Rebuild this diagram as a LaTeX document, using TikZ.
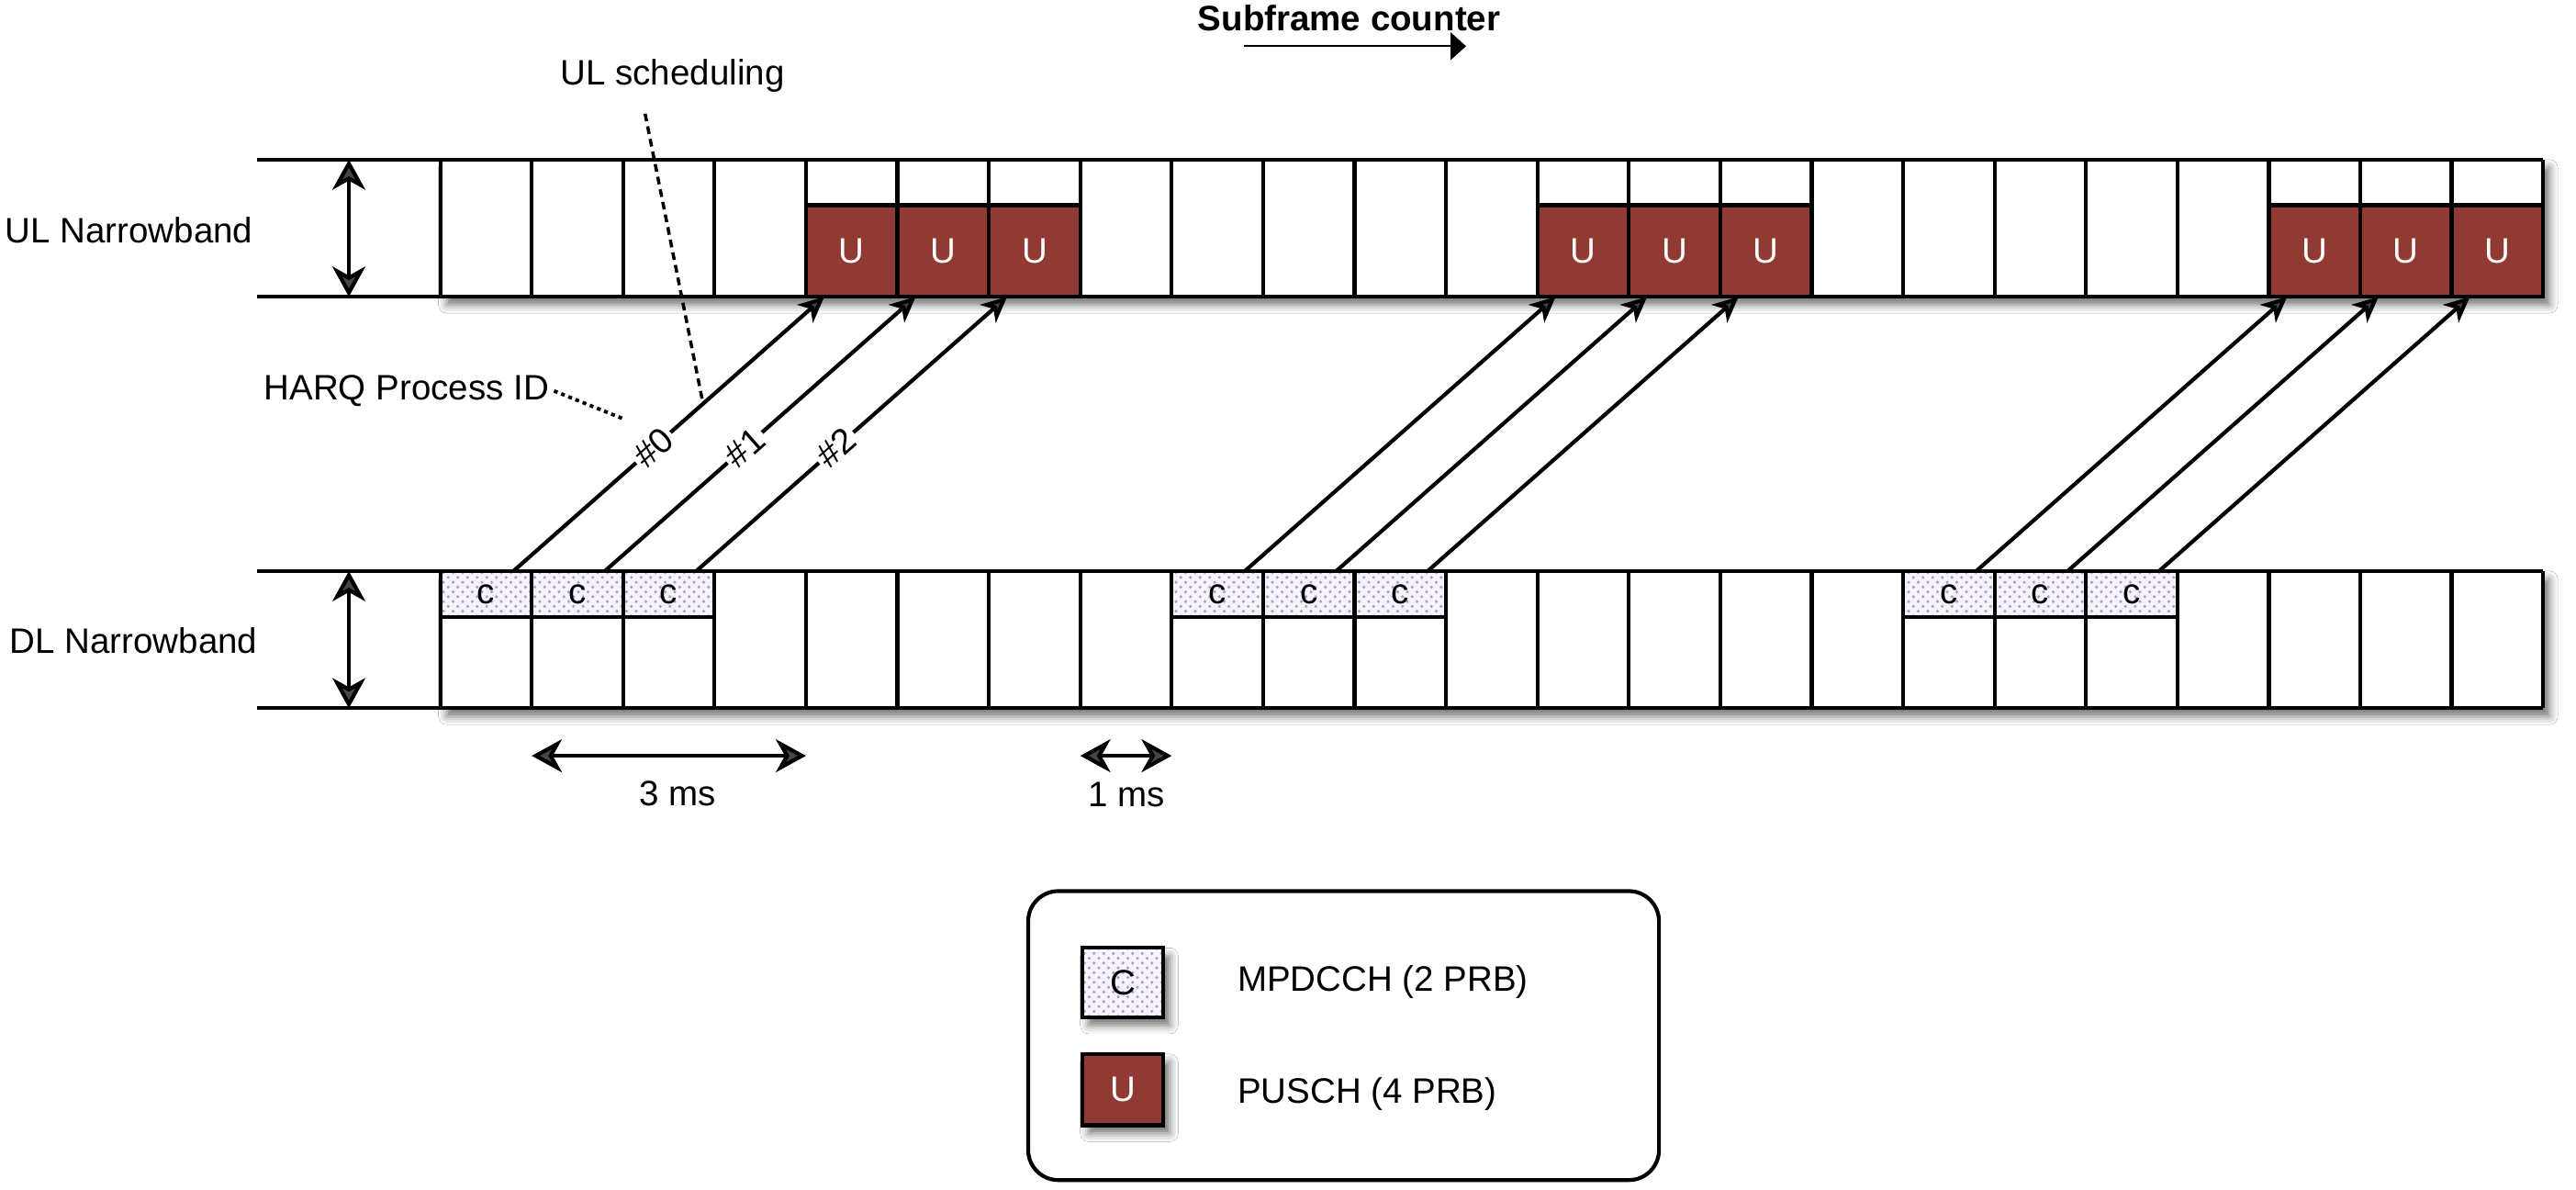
\documentclass[tikz,border=0pt]{standalone}
\usepackage{fontspec}
\setmainfont{Liberation Sans}
\usetikzlibrary{arrows.meta, patterns, shadows.blur, calc}

\definecolor{puschred}{HTML}{913A33}
\definecolor{mpdcchbg}{HTML}{F6F4FA}
\definecolor{mpdcchdot}{HTML}{A99CCB}

\begin{document}
\begin{tikzpicture}[
    line width=1.2pt,
    font=\fontsize{11pt}{13pt}\selectfont,
    softshadow/.style={blur shadow={shadow xshift=0.7mm, shadow yshift=-0.9mm, shadow blur radius=0.9mm, shadow opacity=55}},
    band/.style={fill=white, draw=none, softshadow},
    ccell/.style={draw, rectangle, minimum width=1cm, minimum height=0.5cm, inner sep=0pt, outer sep=0pt, preaction={fill=mpdcchbg}, pattern=crosshatch dots, pattern color=mpdcchdot},
    ucell/.style={draw, rectangle, minimum width=1cm, minimum height=1cm, inner sep=0pt, outer sep=0pt, fill=puschred, text=white},
    sched/.style={-{Stealth[length=2.8mm, width=2.6mm, inset=0.8mm]}},
    harqid/.style={pos=0.45, sloped, fill=white, inner sep=1pt},
    dimarrow/.style={{Stealth[length=3.3mm, width=3.6mm, inset=1mm]}-{Stealth[length=3.3mm, width=3.6mm, inset=1mm]}},
    bandname/.style={anchor=east, inner sep=0pt},
    legendbox/.style={draw, rectangle, rounded corners=3.3mm, minimum width=6.9cm, minimum height=3.16cm}
]
    \path[use as bounding box, fill=white] (-4.816,-5.265) rectangle (23.36,7.745);

    % --- Title ---
    \node[font=\fontsize{11pt}{13pt}\selectfont\bfseries] (counter) at (9.94,7.55) {Subframe counter};
    \coordinate (cnt0) at (8.79,7.24);
    \coordinate (cnt1) at (11.22,7.24);
    \draw[line width=0.6pt, -{Triangle[length=1.7mm, width=3mm]}] (cnt0) -- (cnt1);

    % --- UL narrowband ---
    \path[band] (0,4.5) rectangle (23,6);
    \draw (-2,6) -- (23,6);
    \draw (-2,4.5) -- (23,4.5);
    \foreach \i in {0,...,23} \draw (\i,4.5) -- (\i,6);
    \node[bandname] (ulname) at (-2.03,5.23) {UL Narrowband};
    \coordinate (ulbot) at (-1,4.5);
    \coordinate (ultop) at (-1,6);
    \draw[dimarrow] (ulbot) -- (ultop);

    % --- DL narrowband ---
    \path[band] (0,0) rectangle (23,1.5);
    \draw (-2,1.5) -- (23,1.5);
    \draw (-2,0) -- (23,0);
    \foreach \i in {0,...,23} \draw (\i,0) -- (\i,1.5);
    \node[bandname] (dlname) at (-1.98,0.74) {DL Narrowband};
    \coordinate (dlbot) at (-1,0);
    \coordinate (dltop) at (-1,1.5);
    \draw[dimarrow] (dlbot) -- (dltop);

    % --- MPDCCH cells ---
    \node[ccell] (c1) at (0.5,1.25) {c};
    \node[ccell] (c2) at (1.5,1.25) {c};
    \node[ccell] (c3) at (2.5,1.25) {c};
    \node[ccell] (c4) at (8.5,1.25) {c};
    \node[ccell] (c5) at (9.5,1.25) {c};
    \node[ccell] (c6) at (10.5,1.25) {c};
    \node[ccell] (c7) at (16.5,1.25) {c};
    \node[ccell] (c8) at (17.5,1.25) {c};
    \node[ccell] (c9) at (18.5,1.25) {c};

    % --- PUSCH cells ---
    \node[ucell] (u1) at (4.5,5) {U};
    \node[ucell] (u2) at (5.5,5) {U};
    \node[ucell] (u3) at (6.5,5) {U};
    \node[ucell] (u4) at (12.5,5) {U};
    \node[ucell] (u5) at (13.5,5) {U};
    \node[ucell] (u6) at (14.5,5) {U};
    \node[ucell] (u7) at (20.5,5) {U};
    \node[ucell] (u8) at (21.5,5) {U};
    \node[ucell] (u9) at (22.5,5) {U};

    % --- UL grants ---
    \draw[sched] ([xshift=-2mm]c1.north east) -- ([xshift=2mm]u1.south west) coordinate[pos=0.61] (sched0) node[harqid] {\#0};
    \draw[sched] ([xshift=-2mm]c2.north east) -- ([xshift=2mm]u2.south west) node[harqid] {\#1};
    \draw[sched] ([xshift=-2mm]c3.north east) -- ([xshift=2mm]u3.south west) node[harqid] {\#2};
    \draw[sched] ([xshift=-2mm]c4.north east) -- ([xshift=2mm]u4.south west);
    \draw[sched] ([xshift=-2mm]c5.north east) -- ([xshift=2mm]u5.south west);
    \draw[sched] ([xshift=-2mm]c6.north east) -- ([xshift=2mm]u6.south west);
    \draw[sched] ([xshift=-2mm]c7.north east) -- ([xshift=2mm]u7.south west);
    \draw[sched] ([xshift=-2mm]c8.north east) -- ([xshift=2mm]u8.south west);
    \draw[sched] ([xshift=-2mm]c9.north east) -- ([xshift=2mm]u9.south west);

    % --- Annotations ---
    \node[anchor=base] (ulsched) at (2.54,6.82) {UL scheduling};
    \draw[line width=1pt, dash pattern=on 2.4pt off 1.6pt] ([xshift=-3mm, yshift=-1mm]ulsched.south) -- (sched0);
    \node[inner sep=1pt] (harq) at (-0.37,3.47) {HARQ Process ID};
    \coordinate (harqend) at (1.99,3.17);
    \draw[line width=1.1pt, dash pattern=on 1.2pt off 1.2pt] (harq.east) -- (harqend);

    % --- Timing ---
    \coordinate (ms3a) at (1,-0.52);
    \coordinate (ms3b) at (4,-0.52);
    \draw[dimarrow] (ms3a) -- (ms3b);
    \node (ms3) at (2.6,-0.93) {3 ms};
    \coordinate (ms1a) at (7,-0.52);
    \coordinate (ms1b) at (8,-0.52);
    \draw[dimarrow] (ms1a) -- (ms1b);
    \node (ms1) at (7.51,-0.95) {1 ms};

    % --- Legend ---
    \node[legendbox] (legend) at (9.88,-3.58) {};
    \node[softshadow, ccell, minimum width=0.89cm, minimum height=0.76cm] (legc) at (7.465,-3.0) {C};
    \node[softshadow, ucell, minimum width=0.89cm, minimum height=0.78cm] (legu) at (7.465,-4.17) {U};
    \node[anchor=west, inner sep=0pt] (legctext) at (8.70,-2.99) {MPDCCH (2 PRB)};
    \node[anchor=west, inner sep=0pt] (legutext) at (8.70,-4.22) {PUSCH (4 PRB)};

\end{tikzpicture}
\end{document}
